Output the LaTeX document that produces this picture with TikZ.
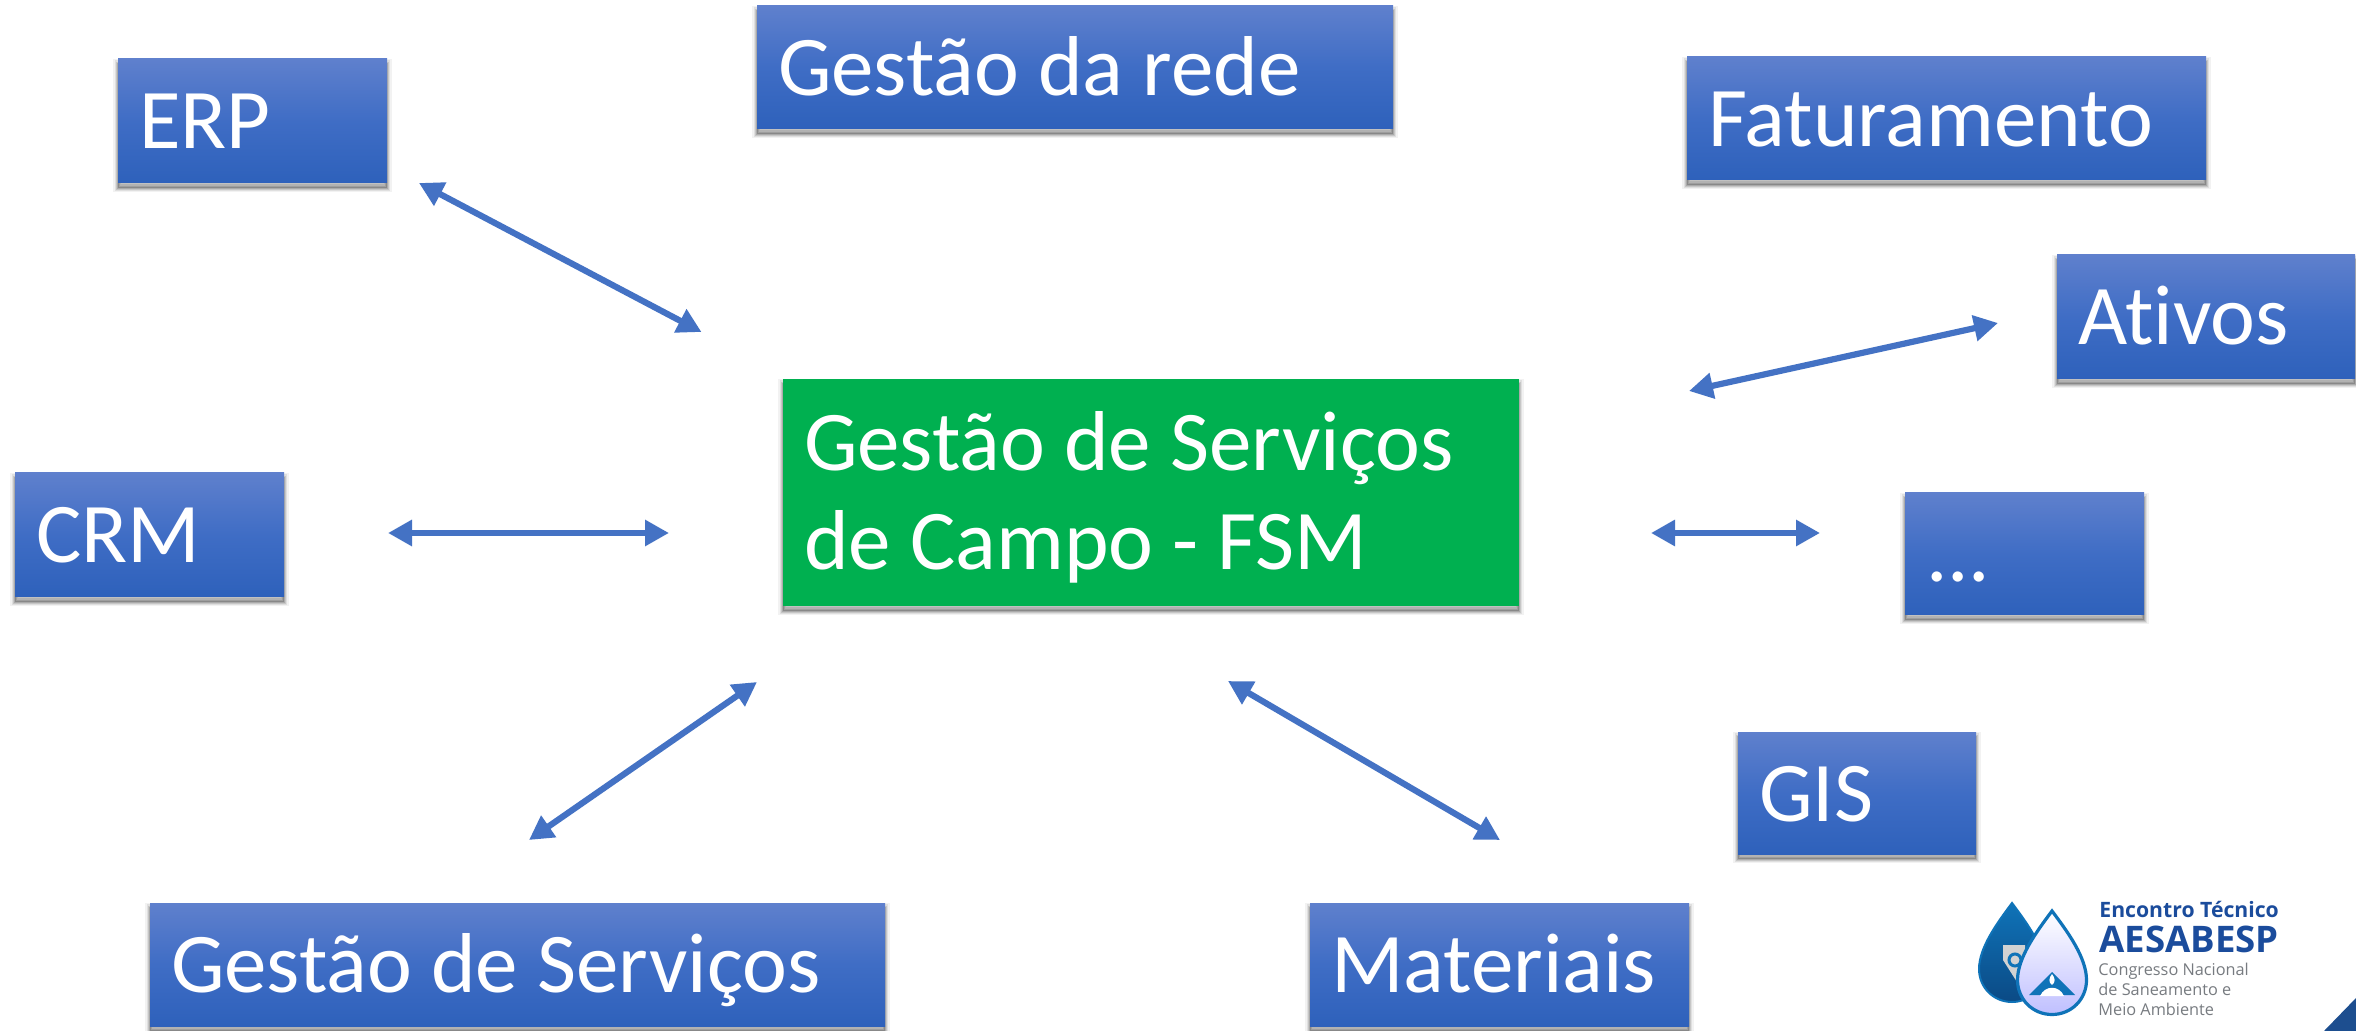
\documentclass[tikz,border=0pt]{standalone}
\usepackage{fontspec}
\setmainfont[Ligatures=NoCommon]{Carlito}
\newfontfamily\logofont{Open Sans}
\usetikzlibrary{arrows.meta,shadows}
\definecolor{boxtop}{HTML}{5F80CD}
\definecolor{boxmid}{HTML}{3F6DC5}
\definecolor{boxbot}{HTML}{2E61BB}
\definecolor{arrowblue}{HTML}{4472C4}
\definecolor{fsmgreen}{HTML}{00B050}
\definecolor{logoblue}{HTML}{1B4C9C}
\definecolor{logogray}{HTML}{777B80}
\definecolor{dropblue}{HTML}{0F73B8}
\definecolor{dropdark}{HTML}{0B4A85}
\definecolor{cornerblue}{HTML}{1D4E8F}
\tikzset{
  softshadow/.style={
    general shadow={draw=black,draw opacity=.05,fill=none,line width=4.6pt,shadow yshift=-2.4pt},
    general shadow={draw=black,draw opacity=.08,fill=none,line width=3.4pt,shadow yshift=-2.4pt},
    general shadow={draw=black,draw opacity=.11,fill=none,line width=2.2pt,shadow yshift=-2.4pt},
    general shadow={draw=black,draw opacity=.14,fill=none,line width=1pt,shadow yshift=-2.4pt},
    general shadow={fill=black,fill opacity=.2,shadow yshift=-2.4pt}},
  basebox/.style={softshadow,rectangle,inner xsep=10.5pt,inner ysep=0pt,align=flush left,text=white,
    font=\fontsize{42.5}{49.5}\selectfont,outer sep=0pt},
  bluebox/.style={basebox,top color=boxtop,bottom color=boxbot,middle color=boxmid,
    execute at begin node=\rule[-11pt]{0pt}{50pt}},
  greenbox/.style={basebox,fill=fsmgreen},
  link/.style={arrowblue,line width=3.1pt,{Triangle[length=12pt,width=12.5pt]}-{Triangle[length=12pt,width=12.5pt]}},
  logoA/.style={text=logoblue,anchor=base west,inner sep=0pt},
  logoB/.style={text=logogray,anchor=base west,inner sep=0pt},
  droppath/.pic={
    \path[pic actions] (0,-2) .. controls (.45,-1.4) and (1,-.65) .. (1,0)
      .. controls (1,.56) and (.56,1) .. (0,1)
      .. controls (-.56,1) and (-1,.56) .. (-1,0)
      .. controls (-1,-.65) and (-.45,-1.4) .. (0,-2) -- cycle;
  }
}
\begin{document}
\begin{tikzpicture}[x=0.5pt,y=-0.5pt]
\useasboundingbox (0,0) rectangle (2356,1031);
\fill[white] (0,0) rectangle (2356,1031);

\node[bluebox,minimum width=134.5pt,minimum height=62pt,text width=113.5pt] (erp) at (252.5,121) {ERP};
\node[bluebox,minimum width=318pt,minimum height=61.5pt,text width=297pt] (rede) at (1075,67.5) {Gestão da rede};
\node[bluebox,minimum width=259.5pt,minimum height=61.5pt,text width=238.5pt] (fat) at (1946.5,118.5) {Faturamento};
\node[bluebox,minimum width=149pt,minimum height=62pt,text width=128pt] (ativos) at (2206,317) {Ativos};
\node[greenbox,minimum width=368pt,minimum height=113.5pt,text width=347pt] (fsm) at (1151,492.5) {\rule{0pt}{34.4pt}Gestão de Serviços\\de Campo - FSM};
\node[bluebox,minimum width=134.5pt,minimum height=62pt,text width=113.5pt] (crm) at (149.5,535) {CRM};
\node[bluebox,minimum width=119.5pt,minimum height=61pt,text width=98.5pt] (dots) at (2024.5,554) {...};
\node[bluebox,minimum width=119pt,minimum height=61pt,text width=98pt] (gis) at (1857,793) {GIS};
\node[bluebox,minimum width=367.5pt,minimum height=61.5pt,text width=346.5pt] (serv) at (517.5,964.5) {Gestão de Serviços};
\node[bluebox,minimum width=189.5pt,minimum height=61.5pt,text width=168.5pt] (mat) at (1499.5,964.5) {Materiais};

\coordinate (erpA) at (419,183);   \coordinate (erpB) at (701.5,332);
\coordinate (crmA) at (388,533);   \coordinate (crmB) at (669,533);
\coordinate (srvA) at (529,840);   \coordinate (srvB) at (757,682);
\coordinate (matA) at (1228,681);  \coordinate (matB) at (1500,840);
\coordinate (dotA) at (1651,533);  \coordinate (dotB) at (1820,533);
\coordinate (atvA) at (1689,391);  \coordinate (atvB) at (1998,323);
\draw[link] (erpA) -- (erpB);
\draw[link] (crmA) -- (crmB);
\draw[link] (srvA) -- (srvB);
\draw[link] (matA) -- (matB);
\draw[link] (dotA) -- (dotB);
\draw[link] (atvA) -- (atvB);

% logo
\pic[top color=dropblue,bottom color=dropdark,draw=dropblue,line width=1pt,shift={(2012,969)},scale=33] {droppath};
\fill[gray!35] (2003,945) -- (2025,945) -- (2025,985) -- (2017,982) -- (2003,960) -- cycle;
\draw[dropblue,line width=1.5pt] (2015,960) circle (6);
\pic[top color=white,bottom color=blue!25!white,draw=dropblue,line width=1.6pt,shift={(2052,980)},scale=34.5] {droppath};
\fill[dropblue] (2029,995) -- (2052,972) -- (2075,995) -- cycle;
\fill[white] (2040,996) .. controls (2045,985) and (2059,985) .. (2064,996) -- cycle;
\fill[white] (2052,974) .. controls (2055,978) and (2056,982) .. (2052,985) .. controls (2048,982) and (2049,978) .. (2052,974) -- cycle;
\node[logoA,font=\logofont\bfseries\fontsize{10.6}{12}\selectfont] (l1) at (2099,917) {Encontro Técnico};
\node[logoA,font=\logofont\bfseries\fontsize{18.3}{22}\selectfont] (l2) at (2099,952) {AESABESP};
\node[logoB,font=\logofont\fontsize{8.15}{10}\selectfont] (l3) at (2098,975) {Congresso Nacional};
\node[logoB,font=\logofont\fontsize{8.15}{10}\selectfont] (l4) at (2098,995) {de Saneamento e};
\node[logoB,font=\logofont\fontsize{8.15}{10}\selectfont] (l5) at (2098,1015) {Meio Ambiente};
\fill[cornerblue] (2324,1031) -- (2356,998) -- (2356,1031) -- cycle;
\end{tikzpicture}
\end{document}
